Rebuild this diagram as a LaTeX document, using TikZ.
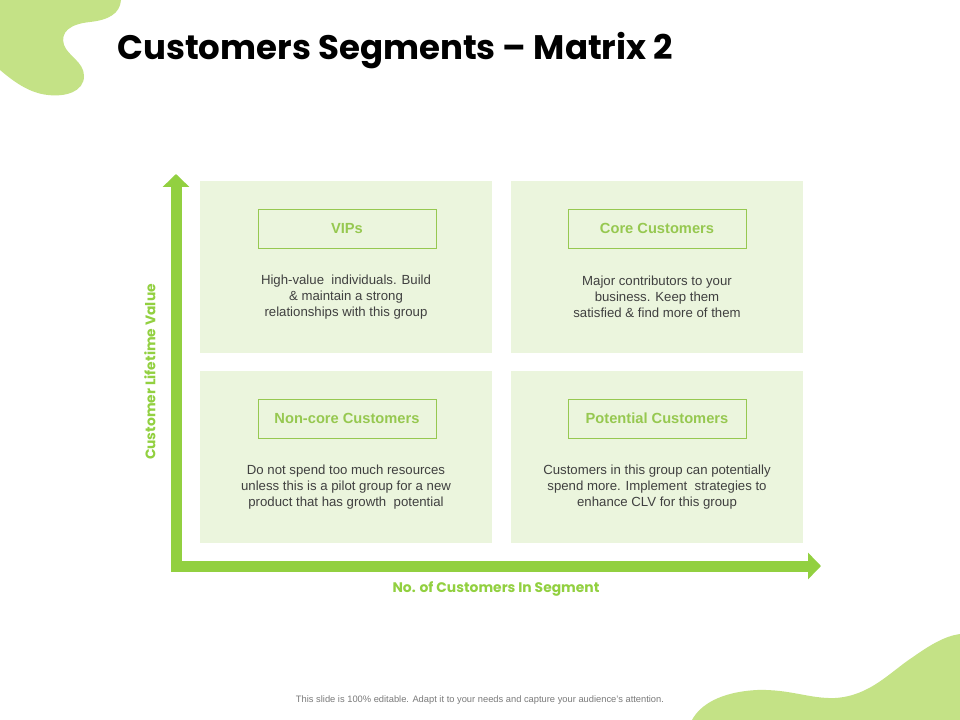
\documentclass[tikz,border=0pt]{standalone}
\usepackage{fontspec}
\setmainfont{Liberation Sans}
\newfontfamily\titlefont{Poppins}
\usetikzlibrary{arrows.meta}

\definecolor{blobgreen}{RGB}{196,226,134}
\definecolor{axisgreen}{RGB}{146,208,64}
\definecolor{quadfill}{RGB}{235,245,221}
\definecolor{taggreen}{RGB}{150,200,80}
\definecolor{bodygray}{RGB}{64,64,64}

\tikzset{
  quad/.style={fill=quadfill,minimum width=219pt,minimum height=129pt,inner sep=0pt},
  tag/.style={draw=taggreen,line width=0.6pt,minimum width=133.5pt,minimum height=29.25pt,
    inner sep=0pt,text=taggreen,font=\fontsize{11}{12}\selectfont\bfseries},
  blurb/.style={align=center,text=bodygray,inner sep=0pt,font=\fontsize{9.9}{12}\selectfont},
  axislabel/.style={text=axisgreen,inner sep=0pt,font=\titlefont\fontsize{10.4}{12}\selectfont\bfseries}
}

\begin{document}
\begin{tikzpicture}[x=0.75pt,y=-0.75pt]
    \useasboundingbox (0,0) rectangle (960,720);
    \fill[white] (0,0) rectangle (960,720);

    % corner blobs
    \fill[blobgreen] (0,0) -- (121,0) .. controls (120,14) and (108,20) .. (90,22)
      .. controls (70,24) and (60,32) .. (64,45) .. controls (68,56) and (84,62) .. (84,76)
      .. controls (84,92) and (65,97) .. (48,95) .. controls (28,93) and (12,80) .. (0,70) -- cycle;
    \fill[blobgreen] (692,720) .. controls (700,705) and (720,692) .. (757,690)
      .. controls (790,689) and (810,699) .. (835,698) .. controls (870,696) and (890,672) .. (913,657)
      .. controls (930,645) and (945,636) .. (960,634) -- (960,720) -- cycle;

    \node[anchor=base west,inner sep=0pt,font=\titlefont\fontsize{25.5}{30}\selectfont\bfseries]
      (title) at (117,60) {Customers Segments – Matrix 2};

    % quadrants
    \node[quad] (vip) at (346,267) {};
    \node[quad] (core) at (657,267) {};
    \node[quad] (noncore) at (346,457) {};
    \node[quad] (potential) at (657,457) {};

    \node[tag] (viptag) at (347,228.5) {VIPs};
    \node[tag] (coretag) at (657,228.5) {Core Customers};
    \node[tag] (noncoretag) at (347,418.5) {Non-core Customers};
    \node[tag] (potentialtag) at (657,418.5) {Potential Customers};

    \node[blurb] (viptext) at (346,297) {High-value\ \ individuals. Build\\\& maintain a strong\\relationships with this group};
    \node[blurb] (coretext) at (657,297) {Major contributors to your\\business. Keep them\\satisfied \& find more of them};
    \node[blurb] (noncoretext) at (346,487) {Do not spend too much resources\\unless this is a pilot group for a new\\product that has growth\ \ potential};
    \node[blurb] (potentialtext) at (657,487) {Customers in this group can potentially\\spend more. Implement\ \ strategies to\\enhance CLV for this group};

    % axes
    \coordinate (ytip) at (176,174);
    \coordinate (origin) at (176,566);
    \coordinate (xtip) at (821,566);
    \draw[axisgreen,line width=8.25pt,
      {Triangle[length=9.75pt,width=19.5pt]}-{Triangle[length=9.75pt,width=19.5pt]}]
      (ytip) -- (origin) -- (xtip);

    \node[axislabel,rotate=90] (ylabel) at (150,372) {Customer Lifetime Value};
    \node[axislabel] (xlabel) at (496,589) {No. of Customers In Segment};

    \node[text=black!52,inner sep=0pt,font=\fontsize{7}{8}\selectfont] (footer) at (480,700)
      {This slide is 100\% editable. Adapt it to your needs and capture your audience's attention.};
\end{tikzpicture}
\end{document}
